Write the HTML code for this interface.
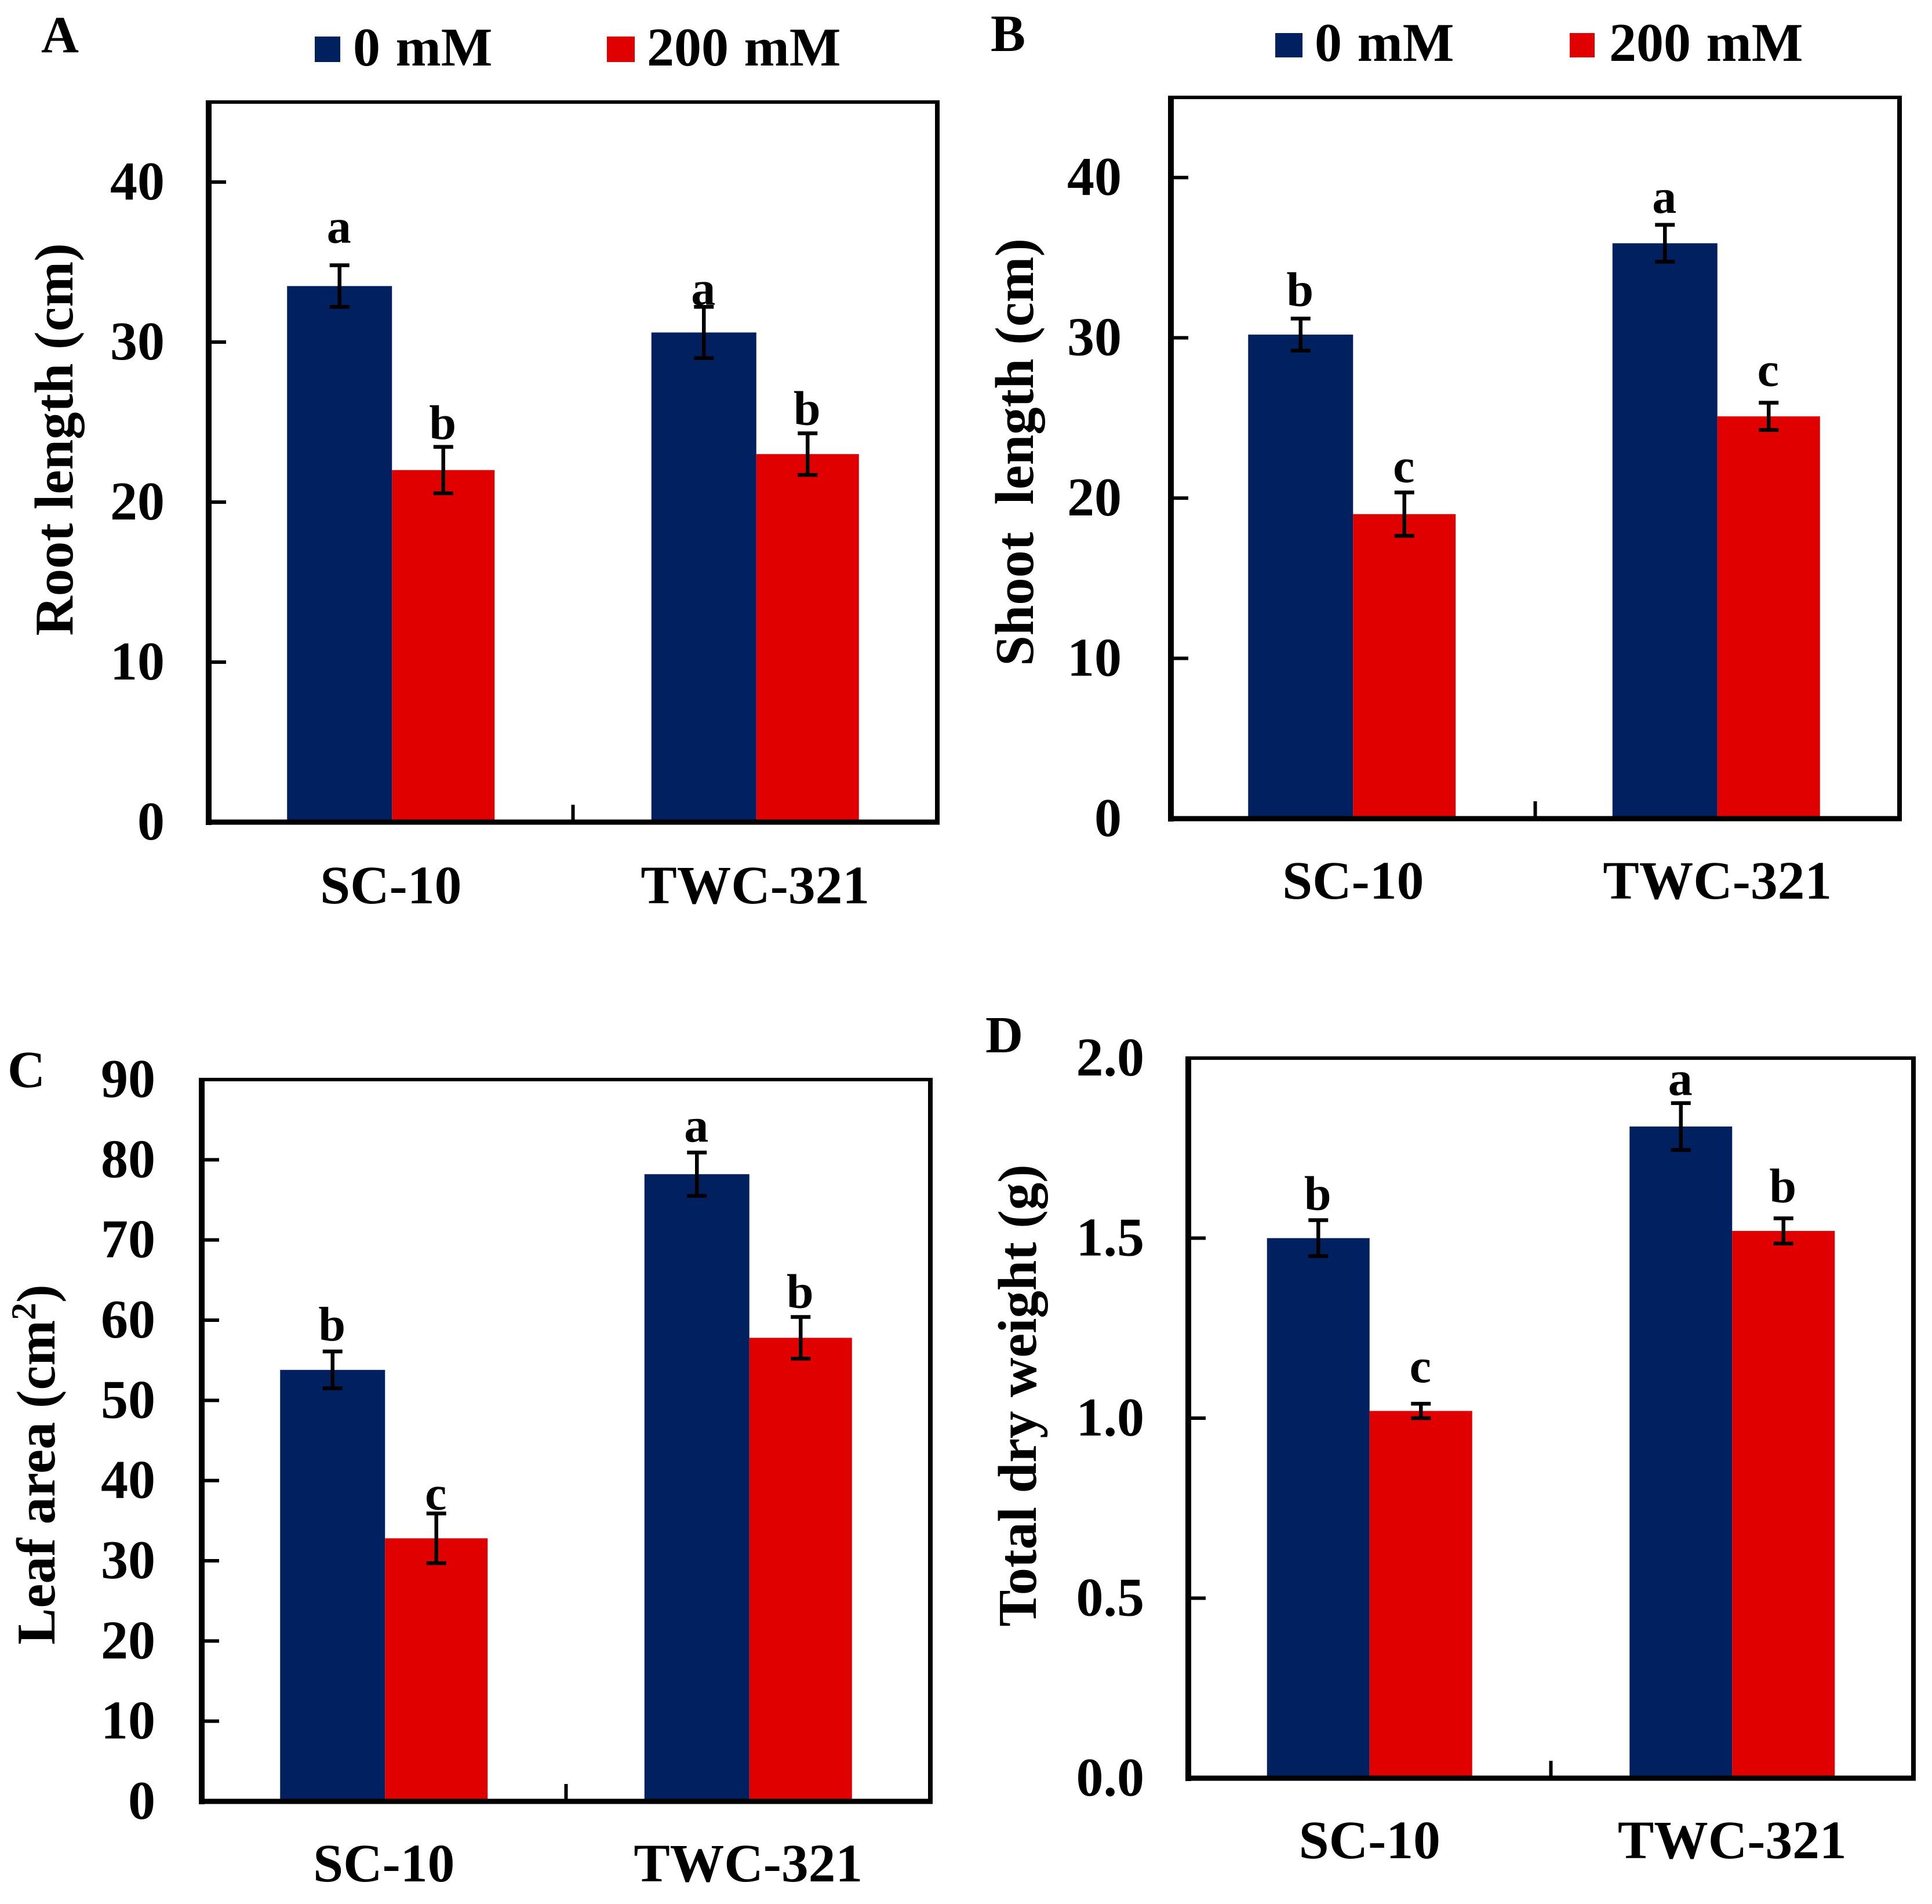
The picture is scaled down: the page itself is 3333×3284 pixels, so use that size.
<!DOCTYPE html>
<html lang="en">
<head>
<meta charset="utf-8">
<title>Root length, shoot length, leaf area and dry weight under salt stress</title>
<style>
  html, body { margin: 0; padding: 0; background: #fff; }
  svg { display: block; }
  text { font-family: "Liberation Serif", serif; font-weight: bold; fill: #000; white-space: pre; }
</style>
</head>
<body>
<svg id="figure" xmlns="http://www.w3.org/2000/svg" width="3333" height="3284" viewBox="0 0 3333 3284"></svg>
<script>
// ---- Chart data ----
const categories = ['SC-10', 'TWC-321'];
const seriesNames = ['0 mM', '200 mM'];

const rootControl = [33.5, 30.6];
const rootSalt = [22.0, 23.0];
const rootControlErr = [1.3, 1.6];
const rootSaltErr = [1.45, 1.3];
const rootLetters = [['a', 'a'], ['b', 'b']];
const rootTicks = [0, 10, 20, 30, 40];
const rootTickLabels = ['0', '10', '20', '30', '40'];

const shootControl = [30.2, 35.9];
const shootSalt = [19.0, 25.1];
const shootControlErr = [1.0, 1.15];
const shootSaltErr = [1.35, 0.85];
const shootLetters = [['b', 'a'], ['c', 'c']];
const shootTicks = [0, 10, 20, 30, 40];
const shootTickLabels = ['0', '10', '20', '30', '40'];

const leafControl = [53.8, 78.2];
const leafSalt = [32.8, 57.8];
const leafControlErr = [2.3, 2.7];
const leafSaltErr = [3.1, 2.6];
const leafLetters = [['b', 'a'], ['c', 'b']];
const leafTicks = [0, 10, 20, 30, 40, 50, 60, 70, 80, 90];
const leafTickLabels = ['0', '10', '20', '30', '40', '50', '60', '70', '80', '90'];

const dryControl = [1.5, 1.81];
const drySalt = [1.02, 1.52];
const dryControlErr = [0.05, 0.065];
const drySaltErr = [0.02, 0.035];
const dryLetters = [['b', 'a'], ['c', 'b']];
const dryTicks = [0, 0.5, 1.0, 1.5, 2.0];
const dryTickLabels = ['0.0', '0.5', '1.0', '1.5', '2.0'];

// ---- Panel definitions (data references plus layout) ----
const panels = [
  { id: 'a', letter: 'A', letterX: 71, letterY: 90, barShift: 2,
    l: 360, r: 1617, t: 176, b: 1418, max: 45,
    control: rootControl, salt: rootSalt, controlErr: rootControlErr, saltErr: rootSaltErr,
    letters: rootLetters, gaps: [[39, 4], [14, 15]],
    ticks: rootTicks, tickLabels: rootTickLabels, tickRight: 284,
    title: 'Root length (cm)', titleX: 125, titleY: 758, catY: 1558, blueW: 181,
    legend: { y: 63, h: 44, text: 113, b: 543, bw: 44, bt: 609, r: 1047, rw: 48, rt: 1116 } },
  { id: 'b', letter: 'B', letterX: 1709, letterY: 88, barShift: 0,
    l: 2020, r: 3277, t: 168, b: 1412, max: 45,
    control: shootControl, salt: shootSalt, controlErr: shootControlErr, saltErr: shootSaltErr,
    letters: shootLetters, gaps: [[22, 21], [18, 29]],
    ticks: shootTicks, tickLabels: shootTickLabels, tickRight: 1935,
    title: 'Shoot  length (cm)', titleX: 1782, titleY: 780, catY: 1550, blueW: 181,
    legend: { y: 57, h: 42, text: 105, b: 2200, bw: 47, bt: 2268, r: 2708, rw: 43, rt: 2776 } },
  { id: 'c', letter: 'C', letterX: 13, letterY: 1875, barShift: 2,
    l: 348, r: 1605, t: 1862, b: 3107, max: 90,
    control: leafControl, salt: leafSalt, controlErr: leafControlErr, saltErr: leafSaltErr,
    letters: leafLetters, gaps: [[19, 19], [7, 16]],
    ticks: leafTicks, tickLabels: leafTickLabels, tickRight: 268,
    title: 'Leaf area (cm', titleSup: '2', titleEnd: ')', titleX: 94, titleY: 2526, catY: 3245, blueW: 181 },
  { id: 'd', letter: 'D', letterX: 1700, letterY: 1815, barShift: 0,
    l: 2050, r: 3301, t: 1825, b: 3067, max: 2,
    control: dryControl, salt: drySalt, controlErr: dryControlErr, saltErr: drySaltErr,
    letters: dryLetters, gaps: [[18, 14], [37, 28]],
    ticks: dryTicks, tickLabels: dryTickLabels, tickRight: 1974,
    title: 'Total dry weight (g)', titleX: 1787, titleY: 2407, catY: 3205, blueW: 177 }
];

const BLUE = '#002060';
const RED = '#e00000';
const NS = 'http://www.w3.org/2000/svg';
const TICK_FONT = 94;
const LABEL_FONT = 93.5;
const TITLE_FONT = 94.5;
const root = document.getElementById('figure');

function make(type, parent, attrs, content) {
  const el = document.createElementNS(NS, type);
  for (const k in attrs) el.setAttribute(k, attrs[k]);
  if (content !== undefined) el.textContent = content;
  parent.appendChild(el);
  return el;
}

function yScale(p, v) {
  return p.b - (v / p.max) * (p.b - p.t);
}
function xCenter(p, i) {
  return p.l + (p.r - p.l) * (i + 0.5) / categories.length;
}

panels.forEach(function (p) {
  const g = make('g', root, {});
  
  

  const panelLetter = make('text', g, { x: p.letterX, y: p.letterY, 'font-size': 90 }, p.letter);
  
  

  // bars, error bars, significance letters
  categories.forEach(function (cat, i) {
    const c = xCenter(p, i);
    const b0 = c + p.barShift;
    const specs = [
      { key: 'control', vals: p.control, errs: p.controlErr, fill: BLUE, x: b0 - p.blueW, w: p.blueW, s: 0 },
      { key: 'salt', vals: p.salt, errs: p.saltErr, fill: RED, x: b0, w: 177, s: 1 }
    ];
    specs.forEach(function (sp) {
      const v = sp.vals[i];
      const e = sp.errs[i];
      const mid = sp.x + sp.w / 2;
      const top = yScale(p, v);

      const bar = make('rect', g, { x: sp.x, y: top, width: sp.w, height: p.b - top, fill: sp.fill });
      
      

      const hi = yScale(p, v + e);
      const lo = yScale(p, v - e);
      const err = make('path', g, {
        d: 'M' + mid + ' ' + hi + 'V' + lo + 'M' + (mid - 17) + ' ' + hi + 'H' + (mid + 17) + 'M' + (mid - 17) + ' ' + lo + 'H' + (mid + 17),
        stroke: '#000', 'stroke-width': 6.5, fill: 'none'
      });
      
      

      const sig = make('text', g, {
        x: mid - 1, y: hi - p.gaps[sp.s][i], 'font-size': 84, 'text-anchor': 'middle'
      }, p.letters[sp.s][i]);
      
      
    });

    const catLabel = make('text', g, {
      x: c, y: p.catY, 'font-size': LABEL_FONT, 'text-anchor': 'middle'
    }, cat);
    
    
  });

  // frame
  const sides = [
    ['top', p.l - 5, p.t, p.r + 4, p.t, 6],
    ['right', p.r, p.t, p.r, p.b + 4, 8],
    ['left', p.l, p.t - 3, p.l, p.b + 5, 10],
    ['bottom', p.l - 5, p.b, p.r + 4, p.b, 9]
  ];
  sides.forEach(function (s) {
    const line = make('line', g, { x1: s[1], y1: s[2], x2: s[3], y2: s[4], stroke: '#000', 'stroke-width': s[5] });
    
    
  });

  // y ticks + labels
  p.ticks.forEach(function (t, i) {
    const y = yScale(p, t);
    const tick = make('line', g, { x1: p.l, y1: y, x2: p.l + 30, y2: y, stroke: '#000', 'stroke-width': 6 });
    
    

    const label = make('text', g, {
      x: p.tickRight, y: y + 30, 'font-size': TICK_FONT, 'text-anchor': 'end'
    }, p.tickLabels[i]);
    
    
  });

  // x ticks at category boundaries
  for (let i = 1; i <= categories.length; i++) {
    const x = p.l + (p.r - p.l) * i / categories.length;
    const xt = make('line', g, { x1: x, y1: p.b, x2: x, y2: p.b - 30, stroke: '#000', 'stroke-width': 6 });
    
    
  }

  // y-axis title
  const title = make('text', g, {
    x: 0, y: 0, 'font-size': TITLE_FONT, 'text-anchor': 'middle',
    transform: 'translate(' + p.titleX + ' ' + p.titleY + ') rotate(-90)'
  }, p.title);
  
  
  if (p.titleSup) {
    make('tspan', title, { 'font-size': 60, dy: -33 }, p.titleSup);
    make('tspan', title, { dy: 33 }, p.titleEnd);
  }

  // legend
  if (p.legend) {
    const L = p.legend;
    const entries = [
      { name: seriesNames[0], x: L.b, w: L.bw, tx: L.bt, fill: BLUE },
      { name: seriesNames[1], x: L.r, w: L.rw, tx: L.rt, fill: RED }
    ];
    entries.forEach(function (en) {
      const slug = en.name.replace(' ', '-').toLowerCase();
      const lg = make('g', g, {});
      
      

      const swatch = make('rect', lg, { x: en.x, y: L.y, width: en.w, height: L.h, fill: en.fill });
      
      

      const txt = make('text', lg, { x: en.tx, y: L.text, 'font-size': 94, 'word-spacing': 3 }, en.name);
      
      
    });
  }
});
</script>
</body>
</html>
